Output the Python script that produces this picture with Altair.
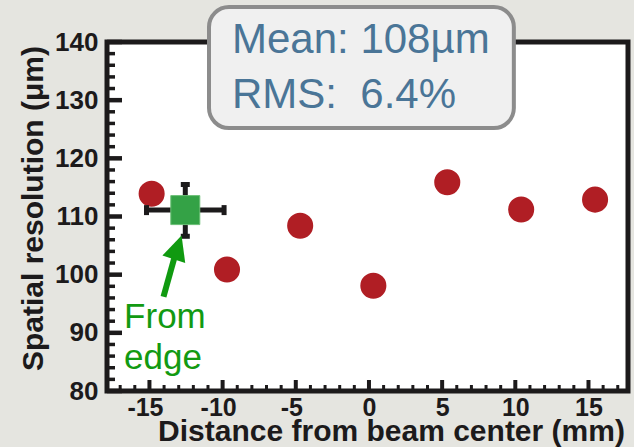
import altair as alt
import pandas as pd

# Beam-scan measurements: position across the sensor vs. spatial resolution
pos_mm = [-14.85, -9.7, -4.7, 0.3, 5.35, 10.4, 15.45]
resolution_um = [113.9, 100.9, 108.4, 98.1, 115.9, 111.2, 112.9]

# Resolution measured from the sensor edge, with its uncertainties
edge_pos = [-12.55]
edge_res = [111.1]
edge_pos_lo = [-15.2]
edge_pos_hi = [-9.9]
edge_res_lo = [106.6]
edge_res_hi = [115.5]

# Axis ticks
x_major = [-15, -10, -5, 0, 5, 10, 15]
x_minor = [v for v in range(-17, 18) if v % 5 != 0]
y_major = [80, 90, 100, 110, 120, 130, 140]
y_minor = [v for v in range(82, 140, 2) if v % 10 != 0]

# Summary box and annotation placement (data units)
box_x = [-10.93]
box_x2 = [9.9]
box_y = [146.0]
box_y2 = [125.2]
summary_lines = ["Mean: 108µm", "RMS:\u00a0\u00a06.4%"]
summary_x = [-9.36, -9.36]
summary_y = [138.1, 128.6]
note_lines = ["From", "edge"]
note_x = [-16.73, -16.73]
note_y = [90.9, 83.8]
arrow_x = [-14.04, -13.22]
arrow_y = [96.2, 103.6]
head_x = [-13.07]
head_y = [104.7]

W, H = 521, 349
FONT = "Liberation Sans"
INK = "#1c1a1b"

xs = alt.Scale(domain=[-17.9, 17.7], nice=False, zero=False)
ys = alt.Scale(domain=[80, 140], nice=False, zero=False)

x_axis = alt.Axis(values=x_major, ticks=False, tickSize=0, domain=False, grid=False,
                  labelExpr="'' + datum.value",
                  labelOffset={"condition": {"test": "datum.value < 0", "value": -4.5}, "value": 0},
                  labelFont=FONT, labelFontSize=25, labelFontWeight="bold",
                  labelColor=INK, labelPadding=4,
                  title="Distance from beam center (mm)", titleFont=FONT,
                  titleFontSize=30, titleFontWeight="bold", titleColor=INK,
                  titleX=284, titleY=49, titleBaseline="alphabetic",
                  titleAnchor="middle")
y_axis = alt.Axis(values=y_major, ticks=False, tickSize=0, domain=False, grid=False,
                  labelFont=FONT, labelFontSize=26, labelFontWeight="bold",
                  labelColor=INK, labelPadding=9,
                  title="Spatial resolution (μm)", titleFont=FONT,
                  titleFontSize=30, titleFontWeight="bold", titleColor=INK,
                  titleX=-59, titleY=166, titleAngle=-90,
                  titleBaseline="bottom", titleAnchor="middle")


def X(field):
    return alt.X(field, scale=xs, axis=x_axis)


def Y(field):
    return alt.Y(field, scale=ys, axis=y_axis)


meas = pd.DataFrame({"pos": pos_mm, "res": resolution_um})
edge = pd.DataFrame({"pos": edge_pos, "res": edge_res, "plo": edge_pos_lo,
                     "phi": edge_pos_hi, "rlo": edge_res_lo, "rhi": edge_res_hi})

one = pd.DataFrame({"k": [0]})

frame = alt.Chart(one).mark_rect(filled=False, stroke=INK, strokeWidth=5).encode(
    x=alt.value(0), x2=alt.value(W), y=alt.value(0), y2=alt.value(H)
)


def xticks(vals, length, width):
    return alt.Chart(pd.DataFrame({"t": vals})).mark_rule(
        color=INK, strokeWidth=width
    ).encode(x=X("t:Q"), y=alt.value(H), y2=alt.value(H - length))


def yticks(vals, length, width):
    return alt.Chart(pd.DataFrame({"t": vals})).mark_rule(
        color=INK, strokeWidth=width
    ).encode(y=Y("t:Q"), x=alt.value(0), x2=alt.value(length))


points = alt.Chart(meas).mark_circle(size=680, color="#b01e24", opacity=1).encode(
    x=X("pos:Q"), y=Y("res:Q"))

err_x = alt.Chart(edge).mark_rule(color=INK, strokeWidth=5).encode(
    x=X("plo:Q"), x2="phi:Q", y=Y("res:Q"))
err_y = alt.Chart(edge).mark_rule(color=INK, strokeWidth=5).encode(
    x=X("pos:Q"), y=Y("rlo:Q"), y2="rhi:Q")
cap_lo_x = alt.Chart(edge).mark_tick(orient="vertical", thickness=5, size=10, color=INK, opacity=1).encode(
    x=X("plo:Q"), y=Y("res:Q"))
cap_hi_x = alt.Chart(edge).mark_tick(orient="vertical", thickness=5, size=10, color=INK, opacity=1).encode(
    x=X("phi:Q"), y=Y("res:Q"))
cap_lo_y = alt.Chart(edge).mark_tick(orient="horizontal", thickness=5, size=9, color=INK, opacity=1).encode(
    x=X("pos:Q"), y=Y("rlo:Q"))
cap_hi_y = alt.Chart(edge).mark_tick(orient="horizontal", thickness=5, size=9, color=INK, opacity=1).encode(
    x=X("pos:Q"), y=Y("rhi:Q"))

square = alt.Chart(edge).mark_point(shape="square", size=841, filled=True, fill="#34a246",
                                    stroke="#6cbf76", strokeWidth=1, opacity=1).encode(
    x=X("pos:Q"), y=Y("res:Q"))

arrow_df = pd.DataFrame({"x": arrow_x, "y": arrow_y, "o": [0, 1]})
shaft = alt.Chart(arrow_df).mark_line(color="#109a10", strokeWidth=6, strokeCap="butt").encode(
    x=X("x:Q"), y=Y("y:Q"), order="o:O")
head = alt.Chart(pd.DataFrame({"x": head_x, "y": head_y})).mark_point(
    shape="M0,-1L0.96,1L-0.96,1Z", size=625, filled=True, fill="#109a10",
    strokeWidth=0, opacity=1, angle=18
).encode(x=X("x:Q"), y=Y("y:Q"))

note = alt.Chart(pd.DataFrame({"x": note_x, "y": note_y, "t": note_lines})).mark_text(
    font=FONT, fontSize=35, color="#129a12", align="left", baseline="alphabetic"
).encode(x=X("x:Q"), y=Y("y:Q"), text="t:N")

box = alt.Chart(pd.DataFrame({"x": box_x, "x2": box_x2, "y": box_y, "y2": box_y2})).mark_rect(
    fill="#f0f0f0", stroke="#8c8c8c", strokeWidth=4, cornerRadius=20
).encode(x=X("x:Q"), x2="x2:Q", y=Y("y:Q"), y2="y2:Q")

summary = alt.Chart(pd.DataFrame({"x": summary_x, "y": summary_y, "t": summary_lines})).mark_text(
    font=FONT, fontSize=42, color="#4a7597", align="left", baseline="alphabetic"
).encode(x=X("x:Q"), y=Y("y:Q"), text="t:N")

chart = alt.layer(
    points, frame,
    xticks(x_minor, 6, 3), xticks(x_major, 11, 4),
    yticks(y_minor, 8, 3.5), yticks(y_major, 15, 4.5),
    err_x, err_y, cap_lo_x, cap_hi_x, cap_lo_y, cap_hi_y, square,
    shaft, head, note, box, summary,
).properties(
    width=W, height=H,
    autosize=alt.AutoSizeParams(type="none"),
    padding={"left": 107, "top": 42, "right": 634 - 107 - W, "bottom": 447 - 42 - H},
    background="#e5e5e0",
).configure_view(fill="white", stroke=None)

chart.save("out.html", embed_options={"renderer": "svg", "actions": False})
